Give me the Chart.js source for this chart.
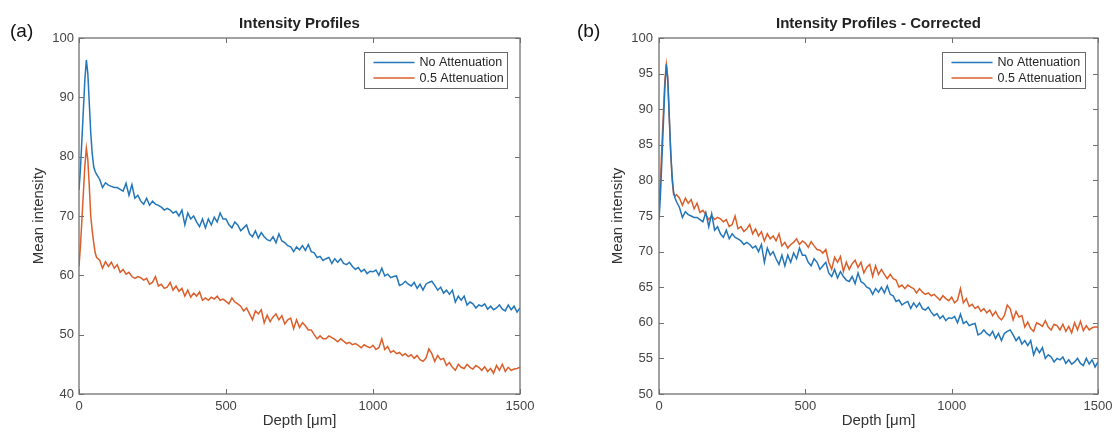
<!DOCTYPE html>
<html><head><meta charset="utf-8">
<script src="https://cdn.jsdelivr.net/npm/chart.js@4.4.1/dist/chart.umd.min.js"></script>
<style>
html,body{margin:0;padding:0;background:#fff;}
#wrap{position:relative;width:1114px;height:434px;background:#fff;}
.c{position:absolute;top:0;width:557px;height:434px;}
</style></head><body>
<div id="wrap">
<div class="c" style="left:0"><canvas id="ca" width="557" height="434"></canvas></div>
<div class="c" style="left:557px"><canvas id="cb" width="557" height="434"></canvas></div>
</div>
<script>
// ---- data ----
const depth = [0,5,10,15,20,25,30,35,40,45,50,55,60,
70,80,90,100,110,120,130,140,150,160,
170,180,190,200,210,220,230,240,250,260,
270,280,290,300,310,320,330,340,350,360,
370,380,390,400,410,420,430,440,450,460,
470,480,490,500,510,520,530,540,550,560,
570,580,590,600,610,620,630,640,650,660,
670,680,690,700,710,720,730,740,750,760,
770,780,790,800,810,820,830,840,850,860,
870,880,890,900,910,920,930,940,950,960,
970,980,990,1000,1010,1020,1030,1040,1050,1060,
1070,1080,1090,1100,1110,1120,1130,1140,1150,1160,
1170,1180,1190,1200,1210,1220,1230,1240,1250,1260,
1270,1280,1290,1300,1310,1320,1330,1340,1350,1360,
1370,1380,1390,1400,1410,1420,1430,1440,1450,1460,
1470,1480,1490,1500];

const noAttenuation = [74.4,78,83,88,93,96.3,94,89,84,80.5,78.3,77.5,77,
76.2,74.8,75.6,75.2,75,74.8,74.8,74.5,74.2,75.5,
73.5,75.3,73,73.5,72.5,72,73,71.8,72.5,72,
71.8,71.5,71,71.3,71,70.5,70.8,70,71,68.5,
70.5,69.5,70,69,68.2,69.5,68,69.5,68.5,69.8,
69,70.5,69.5,69.5,68.5,68,69,68.5,67.5,68,
68.5,67,66.5,67.5,66.3,67.2,66.5,66,65.8,66.5,
65.5,67,65.8,65.5,65,64.8,64,64.8,64.3,65,
64.2,65.2,64,63.8,63,63.2,62.5,62.8,63,62,
62.8,62.2,62.8,62,61.8,62.2,61.5,61,61.3,60.6,
61,60.3,60.7,60.6,60.9,60,61.2,59.9,60.2,59.6,
59.8,59.9,58.3,58.5,59,58.5,58.2,58.8,57.8,58.5,
57.5,58.5,58.8,59,58.3,57.5,58,57,57.5,56.8,
57.5,55.5,56.5,55.8,56.5,55,55.5,55.2,54.5,55,
54.8,55.2,54.3,54.8,54.2,54.5,55,54.3,54,55,
54.2,54.8,53.8,54.5];

const halfAttenuation = [61.5,65,69.5,74,78.5,81.4,79.5,75,70,67.5,65.5,63.8,63,
62.6,61.2,62.3,61.5,62.2,61.2,61.8,60.5,61,60.2,
60.5,59.8,59.5,59.8,59.6,59.2,59.5,58.5,58.8,59.8,
58.2,58.5,57.8,58,58.8,57.5,58.2,57.3,57.8,56.5,
57.5,56.3,57,56.5,57.2,55.8,56.2,55.8,56.3,56,
56.5,55.8,56,55.6,55.2,56.2,55.5,55.2,54.8,54,
54.5,53.5,52.5,54,53.5,54.2,52,53.3,52.2,53,
53.5,52.5,53.2,51.8,52.5,52.8,51,52.5,51.2,52,
51.5,50.8,50.8,50,49.3,49.8,49.3,49.3,49.8,49.5,
49.2,48.8,49.3,48.9,48.5,48.7,48.3,48.5,48.2,47.8,
48.3,48,47.8,48.2,47.5,47.8,49.3,47.5,48,47,
47.3,46.8,47,46.5,46.8,46.3,46.6,46,46.5,45.8,
45.5,46,47.6,46.8,45.5,46.5,45.8,46,44.8,45.3,
44.5,44,45,44.5,44.3,45,44.5,44.2,44.8,44.5,
44,44.6,43.8,44.3,43.5,44.8,44,45,43.8,44.5,
44,44.2,44.3,44.5];

const halfAttenuationCorrected = [76.5,80,85,89.5,94,96.3,94.5,89,84,80,78,77.8,78,
77.5,76.5,77.5,76.8,77.3,76,76.8,75.5,75.8,75.2,
74.5,75,74.5,74.8,74.6,74.2,74.5,73.5,73.8,75,
73.2,73.5,72.8,73.2,73.8,72.5,73.2,72.2,72.8,71.5,
72.5,71.8,72.2,71.5,72.5,70.8,71.3,70.5,71,71.3,
71.8,71,71.5,71.2,70.6,71.4,70.8,70.3,70.2,69.8,
70.3,68.5,67.5,69.2,68.5,69.3,67.2,68.5,67.5,68.3,
68.8,67.8,68.5,67,67.8,68.2,66.5,68,66.8,67.5,
66.8,66.2,66.8,66.2,66,65,65.3,64.8,65.3,65,
64.8,64.2,64.8,64.3,64,64.2,63.8,64,63.6,63.2,
63.8,63.4,63.1,63.6,62.8,63.2,64.8,62.8,63.4,62.3,
62.6,62,62.3,61.6,62,61.4,61.8,61,61.6,60.8,
60.4,61,62.5,62,60.4,61.6,60.8,61,59.4,60.1,
59.2,58.8,60,59.8,59.5,60.3,59.4,59,59.8,59.6,
59,59.8,58.8,59.5,58.6,60,59,60.2,58.9,59.6,
59,59.3,59.4,59.4];

const seriesLabels = ['No Attenuation', '0.5 Attenuation'];
const xTickValues = [0, 500, 1000, 1500];
const yTicksA = [40, 50, 60, 70, 80, 90, 100];
const yTicksB = [50, 55, 60, 65, 70, 75, 80, 85, 90, 95, 100];
const titles = ['Intensity Profiles', 'Intensity Profiles - Corrected'];
const panelLabels = ['(a)', '(b)'];
const xTitle = 'Depth [\u03BCm]';
const yTitle = 'Mean intensity';

// ---- styling ----
const FONT = "'Liberation Sans', Arial, Helvetica, sans-serif";
const BLUE = '#2376b9';
const ORANGE = '#dc5f2b';

const pts = vals => vals.map((v, i) => ({x: depth[i], y: v}));

const matlabFrame = {
  id: 'matlabFrame',
  afterDatasetsDraw(chart, args, opts) {
    const {ctx, chartArea: a, scales} = chart;
    ctx.save();
    // inward ticks on all four sides
    ctx.strokeStyle = '#707070';
    ctx.lineWidth = 1;
    const L = 5;
    ctx.beginPath();
    scales.x.ticks.forEach(t => {
      const px = Math.round(scales.x.getPixelForValue(t.value)) + 0.5;
      ctx.moveTo(px, a.bottom); ctx.lineTo(px, a.bottom - L);
      ctx.moveTo(px, a.top); ctx.lineTo(px, a.top + L);
    });
    scales.y.ticks.forEach(t => {
      const py = Math.round(scales.y.getPixelForValue(t.value)) + 0.5;
      ctx.moveTo(a.left, py); ctx.lineTo(a.left + L, py);
      ctx.moveTo(a.right, py); ctx.lineTo(a.right - L, py);
    });
    ctx.stroke();
    // box
    ctx.lineWidth = 1.3;
    ctx.strokeStyle = '#707070';
    ctx.strokeRect(a.left, a.top, a.right - a.left, a.bottom - a.top);
    // title
    ctx.fillStyle = '#222';
    ctx.font = 'bold 15px ' + FONT;
    ctx.textAlign = 'center';
    ctx.textBaseline = 'middle';
    ctx.fillText(opts.title, (a.left + a.right) / 2, 24);
    // panel label
    ctx.font = '19px ' + FONT;
    ctx.textAlign = 'left';
    ctx.fillStyle = '#111';
    ctx.fillText(opts.panel, opts.panelX, 32);
    // legend
    const w = 143, h = 36;
    const lx = Math.round(a.right - 13 - w) + 0.5, ly = Math.round(a.top + 14) + 0.5;
    ctx.fillStyle = '#fff';
    ctx.fillRect(lx, ly, w, h);
    ctx.lineWidth = 1;
    ctx.strokeStyle = '#6a6a6a';
    ctx.strokeRect(lx, ly, w, h);
    ctx.font = '12.5px ' + FONT;
    chart.data.datasets.forEach((ds, i) => {
      const yy = ly + 10 + i * 15.5;
      ctx.strokeStyle = ds.borderColor;
      ctx.lineWidth = 1.4;
      ctx.beginPath();
      ctx.moveTo(lx + 9, yy); ctx.lineTo(lx + 50, yy);
      ctx.stroke();
      ctx.fillStyle = '#262626';
      ctx.textAlign = 'left';
      ctx.textBaseline = 'middle';
      ctx.fillText(ds.label, lx + 55, yy + 0.5);
    });
    ctx.restore();
  }
};

function makeChart(id, o) {
  return new Chart(document.getElementById(id), {
    type: 'line',
    data: {
      datasets: [
        {label: seriesLabels[0], data: pts(o.blue), borderColor: BLUE, borderWidth: 1.5, pointRadius: 0, tension: 0, fill: false},
        {label: seriesLabels[1], data: pts(o.orange), borderColor: ORANGE, borderWidth: 1.5, pointRadius: 0, tension: 0, fill: false}
      ]
    },
    options: {
      responsive: false,
      animation: false,
      devicePixelRatio: 1,
      layout: {padding: {top: 38, left: 0, right: o.padRight, bottom: 0}},
      plugins: {
        legend: {display: false},
        tooltip: {enabled: false},
        title: {display: false},
        matlabFrame: {title: o.title, panel: o.panel, panelX: o.panelX}
      },
      scales: {
        x: {
          type: 'linear', min: 0, max: 1500,
          afterBuildTicks: s => { s.ticks = xTickValues.map(v => ({value: v})); },
          afterFit: s => { s.height = 40; s.paddingLeft = 0; s.paddingRight = 0; },
          grid: {display: false, drawTicks: false},
          border: {display: false},
          ticks: {color: '#444', font: {family: FONT, size: 13}, padding: 5, maxRotation: 0, autoSkip: false,
                  callback: v => String(v)},
          title: {display: true, text: xTitle, color: '#333', font: {family: FONT, size: 15}, padding: {top: 0, bottom: 4}}
        },
        y: {
          type: 'linear', min: o.ymin, max: 100,
          afterBuildTicks: s => { s.ticks = o.yTicks.map(v => ({value: v})); },
          afterFit: s => { s.width = o.yWidth; s.paddingTop = 0; s.paddingBottom = 0; },
          grid: {display: false, drawTicks: false},
          border: {display: false},
          ticks: {color: '#444', font: {family: FONT, size: 13}, padding: o.yPad, callback: v => String(v)},
          title: {display: true, text: yTitle, color: '#333', font: {family: FONT, size: 15}, padding: {top: o.yTitlePad, bottom: 0}}
        }
      }
    },
    plugins: [matlabFrame]
  });
}

makeChart('ca', {blue: noAttenuation, orange: halfAttenuation, title: titles[0], panel: panelLabels[0], panelX: 10,
  padRight: 37, yWidth: 79, ymin: 40, yTicks: yTicksA, yPad: 5, yTitlePad: 30});
makeChart('cb', {blue: noAttenuation, orange: halfAttenuationCorrected, title: titles[1], panel: panelLabels[1], panelX: 20,
  padRight: 16, yWidth: 102, ymin: 50, yTicks: yTicksB, yPad: 6, yTitlePad: 52});
</script>
</body></html>
